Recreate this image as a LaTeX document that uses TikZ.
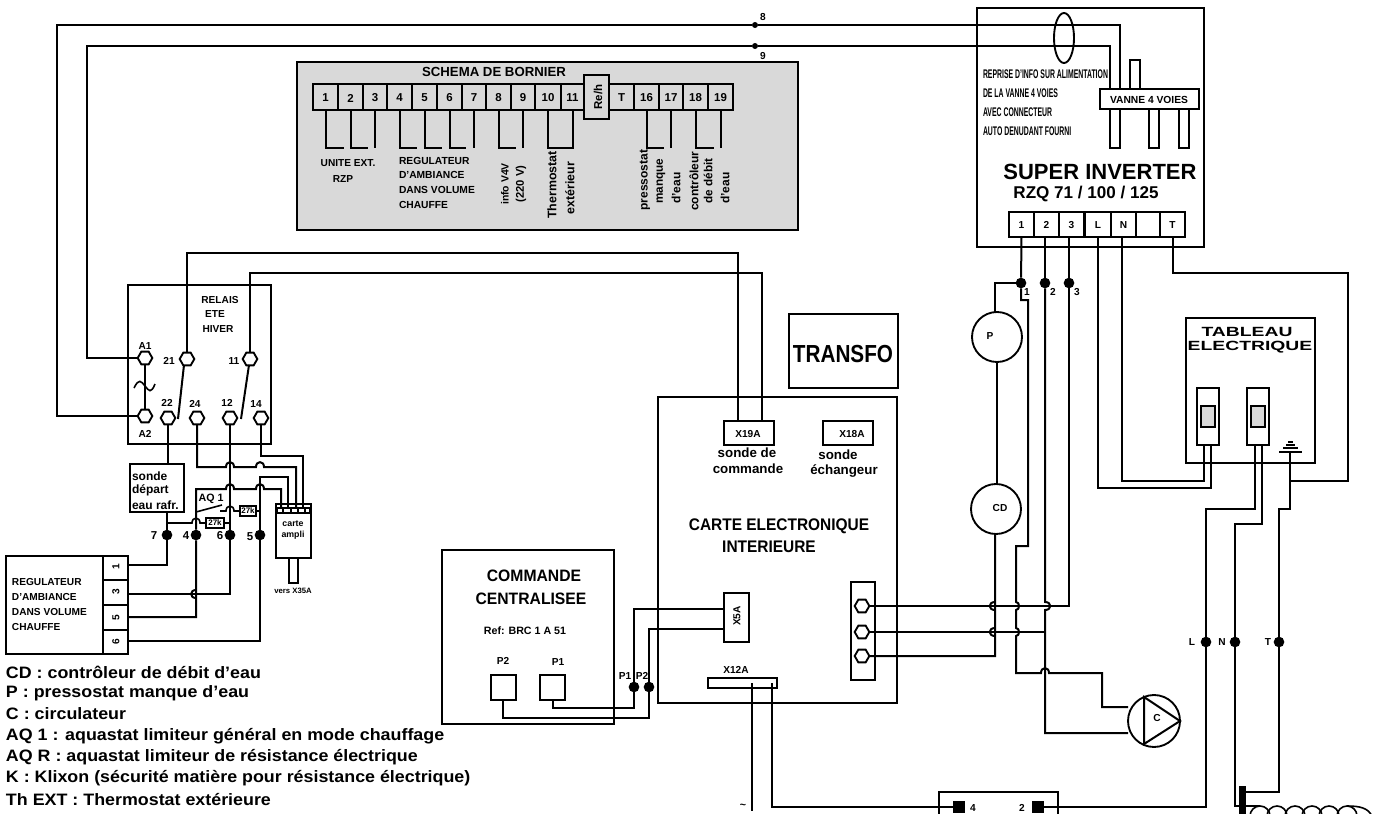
\documentclass[tikz,border=0pt]{standalone}
\usepackage{fontspec}
\setmainfont{Liberation Sans}[BoldFont={Liberation Sans Bold}]
\usetikzlibrary{shapes.geometric}
\newcounter{tc}
\tikzset{
 w/.style={line width=1.5pt,line join=miter},
 thinw/.style={line width=1.2pt},
 box/.style={draw,rectangle,line width=1.5pt,inner sep=0pt,outer sep=0pt},
 lbl/.style={inner sep=0pt,outer sep=0pt},
 hex/.style={draw,fill=white,regular polygon,regular polygon sides=6,shape border rotate=0,minimum size=11pt,inner sep=0pt,line width=1.4pt,outer sep=0pt},
 jdot/.style={circle,fill=black,inner sep=0pt,minimum size=8pt,outer sep=0pt},
 sdot/.style={circle,fill=black,inner sep=0pt,minimum size=4.5pt,outer sep=0pt},
 ring/.style={circle,draw,line width=1.4pt,inner sep=0pt,outer sep=0pt},
}
\newcommand\bx[6][]{\pgfmathsetmacro\ww{(#5-#3)*0.75}\pgfmathsetmacro\hh{(#6-#4)*0.75}\node[box,minimum width=\ww pt,minimum height=\hh pt,#1] (#2) at ({(#3+#5)/2},{(#4+#6)/2}) {};}
\newcommand\tx[5][]{\stepcounter{tc}\node[lbl,font={\fontsize{#4}{#4}\selectfont\bfseries},#1] (lab\thetc) at (#2,#3) {#5};}
% horizontal line bump, vertical line bump (left = negative)
\newcommand\hj[2]{-- ({#1-4},#2) .. controls ({#1-4},{#2-6.5}) and ({#1+4},{#2-6.5}) .. ({#1+4},#2)}
\newcommand\vj[3]{-- (#1,{#2-4}) .. controls ({#1+#3},{#2-4}) and ({#1+#3},{#2+4}) .. (#1,{#2+4})}
\begin{document}
\begin{tikzpicture}[x=0.75pt,y=-0.75pt]
\useasboundingbox (0,0) rectangle (1396,814);
\clip (0,0) rectangle (1396,814);
\fill[white] (0,0) rectangle (1396,814);

%% ---- bornier
\bx[fill=black!15]{bornier}{297}{62}{798}{230}
\foreach \n/\a/\b/\t in {b1/313/338/1,b2/338/363/2,b3/363/387/3,b4/387/412/4,b5/412/437/5,b6/437/462/6,b7/462/486/7,b8/486/511/8,b9/511/535/9,b10/535/561/10,b11/561/584/11,bT/609/634/T,b16/634/659/16,b17/659/683/17,b18/683/708/18,b19/708/733/19}{
  \bx[fill=black!15]{\n}{\a}{84}{\b}{110}
  \tx{\a/2+\b/2}{98}{8.6}{\t}
}
\bx[fill=black!15]{reh}{584}{75}{609}{119}
\tx[rotate=90]{598}{97}{8.6}{Re/h}
\tx{494}{72}{9.9}{SCHEMA DE BORNIER}
\foreach \n/\l in {b1/18,b2/17,b4/17,b5/17,b6/16,b8/17,b16/17,b18/18}{
  \draw[w] (\n.south) -- ++(0,38) -- ++(\l,0);
}
\foreach \n in {b3,b7,b9,b17,b19}{\draw[w] (\n.south) -- ++(0,38);}
\draw[w] (b10.south) -- ++(0,38) -| (b11.south);
\tx{348}{163}{7.6}{UNITE EXT.}
\tx{343}{179}{7.6}{RZP}
\tx[anchor=west]{399}{161}{7.7}{REGULATEUR}
\tx[anchor=west]{399}{175}{7.7}{D'AMBIANCE}
\tx[anchor=west]{399}{190}{7.7}{DANS VOLUME}
\tx[anchor=west]{399}{205}{7.7}{CHAUFFE}
\tx[rotate=90]{505}{184}{7.8}{info V4V}
\tx[rotate=90]{521}{184}{8.4}{(220 V)}
\tx[rotate=90]{552}{185}{9.3}{Thermostat}
\tx[rotate=90]{570}{188}{9.3}{extérieur}
\tx[rotate=90]{645}{180}{9}{pressostat}
\tx[rotate=90]{661}{181}{8.8}{manque}
\tx[rotate=90]{676}{188}{9}{d'eau}
\tx[rotate=90]{694}{181}{9}{contrôleur}
\tx[rotate=90]{708}{181}{8.8}{de débit}
\tx[rotate=90]{725}{188}{9}{d'eau}

%% ---- super inverter
\bx{inv}{977}{8}{1204}{247}
\bx{vanne}{1100}{89}{1199}{109}
\bx{pintop}{1130}{60}{1140}{89}
\bx{pinA}{1110}{109}{1120}{148}
\bx{pinB}{1149}{109}{1159}{148}
\bx{pinC}{1179}{109}{1189}{148}
\tx{1149}{100}{7.7}{VANNE 4 VOIES}
\node[ring,ellipse,minimum width=15pt,minimum height=37.5pt] (cable) at (1064,38) {};
\tx[anchor=west,xscale=0.55]{983}{74}{9.4}{REPRISE D'INFO SUR ALIMENTATION}
\tx[anchor=west,xscale=0.55]{983}{93}{9.4}{DE LA VANNE 4 VOIES}
\tx[anchor=west,xscale=0.55]{983}{112}{9.4}{AVEC CONNECTEUR}
\tx[anchor=west,xscale=0.55]{983}{131}{9.4}{AUTO DENUDANT FOURNI}
\tx{1100}{172}{16.5}{SUPER INVERTER}
\tx{1086}{194}{12.8}{RZQ 71 / 100 / 125}
\foreach \n/\a/\b/\t in {k1/1009/1034/1,k2/1034/1059/2,k3/1059/1084/3,kL/1085/1111/L,kN/1111/1136/N,kE/1136/1160/{},kT/1160/1185/T}{
  \bx{\n}{\a}{212}{\b}{237}
  \tx{\a/2+\b/2}{225}{7.6}{\t}
}
\tx{763}{17}{7.6}{8}
\tx{763}{56}{7.6}{9}

%% ---- relais
\bx{relais}{128}{285}{271}{444}
\tx{220}{300}{7.6}{RELAIS}
\tx{215}{314}{7.6}{ETE}
\tx{218}{329}{7.6}{HIVER}
\node[hex] (A1) at (145,358) {};
\node[hex] (A2) at (145,416) {};
\node[hex] (t21) at (187,359) {};
\node[hex] (t11) at (250,359) {};
\node[hex] (t22) at (168,418) {};
\node[hex] (t24) at (197,418) {};
\node[hex] (t12) at (230,418) {};
\node[hex] (t14) at (261,418) {};
\tx{145}{346}{7.6}{A1}
\tx{145}{434}{7.6}{A2}
\tx{169}{361}{7.6}{21}
\tx{234}{361}{7.6}{11}
\tx{167}{403}{7.6}{22}
\tx{195}{404}{7.6}{24}
\tx{227}{403}{7.6}{12}
\tx{256}{404}{7.6}{14}
\draw[w] (A1) -- (A2);
\draw[thinw,fill=none] (134,388) .. controls (139,378) and (141,381) .. (145,386) .. controls (149,391) and (151,394) .. (155,384);
\draw[w] (184,365) -- (178,419);
\draw[w] (249,365) -- (241,419);

%% ---- regulateur
\bx{reg}{6}{556}{128}{654}
\bx{r1}{103}{556}{128}{580}
\bx{r3}{103}{580}{128}{605}
\bx{r5}{103}{605}{128}{630}
\bx{r6}{103}{630}{128}{654}
\tx[rotate=90]{116}{567}{7.6}{1}
\tx[rotate=90]{116}{592}{7.6}{3}
\tx[rotate=90]{116}{618}{7.6}{5}
\tx[rotate=90]{116}{642}{7.6}{6}
\tx[anchor=west]{12}{582}{7.6}{REGULATEUR}
\tx[anchor=west]{12}{597}{7.6}{D'AMBIANCE}
\tx[anchor=west]{12}{612}{7.6}{DANS VOLUME}
\tx[anchor=west]{12}{627}{7.6}{CHAUFFE}

%% ---- sonde / aq1 / carte ampli
\bx{sonde}{130}{464}{184}{512}
\tx[anchor=west]{132}{476}{9}{sonde}
\tx[anchor=west]{132}{490}{9}{départ}
\tx[anchor=west]{132}{505}{9}{eau rafr.}
\bx{ampli}{276}{504}{311}{558}
\bx[fill=white]{strip}{277}{508}{310}{513}
\foreach \x in {283,291,298,305}{\draw[line width=1pt] (\x,508) -- (\x,513);}
\tx{293}{524}{6.6}{carte}
\tx{293}{535}{6.6}{ampli}
\tx{293}{591}{5.8}{vers X35A}
\node[jdot] (d7) at (167,535) {};
\node[jdot] (d4) at (196,535) {};
\node[jdot] (d6) at (230,535) {};
\node[jdot] (d5) at (260,535) {};
\tx{154}{536}{8.6}{7}
\tx{186}{536}{8.6}{4}
\tx{220}{536}{8.6}{6}
\tx{250}{537}{8.6}{5}
\tx{211}{499}{8}{AQ 1}
\bx[line width=2pt]{res1}{206}{518}{224}{528}
\bx[line width=2pt]{res2}{240}{506}{256}{516}
\tx{215}{523}{6}{27k}
\tx{248}{511}{6}{27k}

\draw[w] (t22) -- (sonde.north -| t22);
\draw[w] (sonde.south -| d7) -- (d7) -- (167,565) -- (r1.east |- 0,565);
\draw[w] (r3.east |- 0,594) -- (230,594) -- (d6);
\draw[w] (t12) -- (d6);
\draw[w] (r5.east |- 0,617) -- (196,617) \vj{196}{594}{-6.5} -- (d4);
\draw[w] (d4) -- (196,489) \hj{230}{489} \hj{260}{489} -- (281,489) -- (281,508);
\draw[w] (t24) -- (197,467) \hj{230}{467} \hj{260}{467} -- (296,467) -- (296,508);
\draw[w] (t14) -- (261,456) -- (303,456) -- (303,508);
\draw[w] (r6.east |- 0,641) -- (260,641) -- (d5) -- (260,477) -- (288,477) -- (288,508);
\draw[thinw] (196,512) -- (222,505);
\draw[thinw] (220,511) \hj{230}{511} -- (res2.west);
\draw[thinw] (res2.east) -- (260,511);
\draw[thinw] (167,523) \hj{196}{523} -- (res1.west);
\draw[thinw] (res1.east) -- (230,523);
\draw[w] (289,558) -- (289,583) -- (298,583) -- (298,558);

%% ---- carte electronique
\bx{carte}{658}{397}{897}{703}
\bx{transfo}{789}{314}{898}{388}
\tx[xscale=0.84]{843}{354}{18.5}{TRANSFO}
\bx{x19}{724}{421}{774}{445}
\bx{x18}{823}{421}{873}{445}
\tx{748}{434}{7.6}{X19A}
\tx{852}{434}{7.6}{X18A}
\tx{747}{453}{10}{sonde de}
\tx{748}{469}{10}{commande}
\tx{838}{455}{10}{sonde}
\tx{844}{471}{10}{échangeur}
\tx[xscale=0.92]{779}{526}{12.6}{CARTE ELECTRONIQUE}
\tx[xscale=0.92]{769}{547}{12.6}{INTERIEURE}
\bx{x5}{724}{593}{749}{642}
\tx[rotate=90]{737}{616}{7.6}{X5A}
\bx{x12}{708}{678}{777}{688}
\tx{736}{670}{7.6}{X12A}
\bx{conn}{851}{582}{875}{680}
\node[hex] (c1) at (862,606) {};
\node[hex] (c2) at (862,632) {};
\node[hex] (c3) at (862,656) {};

%% ---- commande centralisee
\bx{cmd}{442}{550}{614}{724}
\tx[xscale=0.95]{534}{576}{12.4}{COMMANDE}
\tx[xscale=0.95]{531}{599}{12.4}{CENTRALISEE}
\tx{525}{631}{8}{Ref: BRC 1 A 51}
\tx{503}{661}{7.6}{P2}
\tx{558}{662}{7.6}{P1}
\bx{pb2}{491}{675}{516}{700}
\bx{pb1}{540}{675}{565}{700}
\node[jdot] (dp1) at (634,687) {};
\node[jdot] (dp2) at (649,687) {};
\tx{625}{676}{7.6}{P1}
\tx{642}{676}{7.6}{P2}
\draw[w] (pb1.south -| 553,0) -- (553,708) -- (634,708) -- (dp1) -- (634,609) -- (x5.west |- 0,609);
\draw[w] (pb2.south -| 503,0) -- (503,718) -- (649,718) -- (dp2) -- (649,629) -- (x5.west |- 0,629);

%% ---- long wires
\node[sdot] (d8) at (755,25) {};
\node[sdot] (d9) at (755,46) {};
\coordinate (v8) at (1120,89);
\coordinate (v9) at (1110,89);
\draw[w] (A2) -- (57,416) -- (57,25) -- (d8) -- (1120,25) -- (v8);
\draw[w] (A1) -- (87,358) -- (87,46) -- (d9) -- (1110,46) -- (v9);
\draw[w] (t21) -- (187,253) -- (738,253) -- (738,421);
\draw[line width=2pt] (410,253) -- (437,253);
\draw[w] (t11) -- (250,273) -- (762,273) -- (762,421);

%% ---- pressostat etc.
\node[ring,minimum size=37.5pt] (P) at (997,337) {};
\tx{990}{336}{7.6}{P}
\node[ring,minimum size=37.5pt] (CD) at (996,509) {};
\tx{1000}{508}{7.6}{CD}
\node[ring,minimum size=39pt] (circ) at (1154,721) {};
\tx{1157}{718}{7.6}{C}
\draw[w] (1144,697) -- (1144,744) -- (1180,721) -- cycle;
\node[jdot] (j1) at (1021,283) {};
\node[jdot] (j2) at (1045,283) {};
\node[jdot] (j3) at (1069,283) {};
\tx{1027}{292}{7.6}{1}
\tx{1053}{292}{7.6}{2}
\tx{1077}{292}{7.6}{3}
\draw[w] (k1.south) -- (j1);
\draw[w] (k2.south -| j2) -- (j2);
\draw[w] (k3.south -| j3) -- (j3);
\draw[w] (j1) -- (995,283) -- (P.north -| 995,0);
\draw[w] (P) -- (CD.north -| P);
\draw[w] (j1) -- (1021,300) -- (1028,300) -- (1028,546) -- (1016,546) \vj{1016}{606}{4} \vj{1016}{632}{4} -- (1016,673) \hj{1045}{673} -- (1102,673) -- (1102,707) -- (circ.west |- 0,707);
\draw[w] (j2) \vj{1045}{606}{7} -- (1045,733) -- (circ.west |- 0,733);
\draw[w] (j3) -- (1069,606) -- (c1);
\draw[w] (c2) -- (1045,632);
\draw[w] (c3) -- (995,656) \vj{995}{632}{-7} \vj{995}{606}{-7} -- (CD.south -| 995,0);

%% ---- tableau
\bx{tab}{1186}{318}{1315}{463}
\tx[xscale=1.45]{1247}{332}{10}{TABLEAU}
\tx[xscale=1.45]{1250}{347}{10}{ELECTRIQUE}
\bx{br1}{1197}{388}{1219}{445}
\bx{br2}{1247}{388}{1269}{445}
\bx[fill=black!15]{br1i}{1201}{406}{1215}{427}
\bx[fill=black!15]{br2i}{1251}{406}{1265}{427}
\coordinate (e0) at (1290,452);
\draw[thinw] (1279,452) -- (1302,452);
\draw[thinw] (1283,448) -- (1298,448);
\draw[thinw] (1286,445) -- (1295,445);
\draw[thinw] (1288,442) -- (1293,442);
\node[jdot] (dL) at (1206,642) {};
\node[jdot] (dN) at (1235,642) {};
\node[jdot] (dT) at (1279,642) {};
\tx{1192}{642}{7.6}{L}
\tx{1222}{642}{7.6}{N}
\tx{1268}{642}{7.6}{T}
\draw[w] (kL.south -| 1098,0) -- (1098,488) -- (1211,488) -- (br1.south -| 1211,0);
\draw[w] (kN.south -| 1122,0) -- (1122,481) -- (1204,481) -- (br1.south -| 1204,0);
\draw[w] (kT.south) -- (1172.5,273) -- (1348,273) -- (1348,481) -- (1290,481);
\draw[w] (br2.south -| 1255,0) -- (1255,509) -- (1206,509) -- (dL);
\draw[w] (br2.south -| 1262,0) -- (1262,524) -- (1235,524) -- (dN);
\draw[w] (e0) -- (1290,509) -- (1279,509) -- (dT);

%% ---- bottom boxes
\node[fill=black,minimum width=5.25pt,minimum height=21pt,inner sep=0pt,outer sep=0pt] (bar) at (1242.5,800) {};
\draw[w] (dT) -- (1279,792) -- (bar.east |- 0,792);
\draw[w] (dN) -- (1235,806) -- (bar.west |- 0,806);
\foreach \x in {1260,1277,1295,1312,1329,1347}{\draw[thinw] (\x,816) circle[radius=7.5pt];}
\draw[thinw] (bar.east |- 0,806) -- (1260,806) ;
\draw[thinw] (1347,806) .. controls (1360,806) and (1368,808) .. (1372,816);
\draw[w] (939,814) -- (939,792) -- (1058,792) -- (1058,814);
\node[fill=black,minimum size=9pt,inner sep=0pt,outer sep=0pt] (s4) at (959,807) {};
\node[fill=black,minimum size=9pt,inner sep=0pt,outer sep=0pt] (s2) at (1038,807) {};
\tx{973}{808}{7.6}{4}
\tx{1022}{808}{7.6}{2}
\draw[w] (s2) -- (dL |- s2) -- (dL);
\draw[w] (x12.center -| 752,0) -- (752,811);
\draw[w] (772,683) -- (772,807) -- (s4);
\tx{743}{806}{8}{\textasciitilde}

%% ---- legend
\tx[anchor=west,xscale=1.08]{6}{672}{12.4}{CD : contrôleur de débit d'eau}
\tx[anchor=west,xscale=1.08]{6}{693}{12.4}{P : pressostat manque d'eau}
\tx[anchor=west,xscale=1.08]{6}{714}{12.4}{C : circulateur}
\tx[anchor=west,xscale=1.08]{6}{736}{12.4}{AQ 1 : aquastat limiteur général en mode chauffage}
\tx[anchor=west,xscale=1.08]{6}{757}{12.4}{AQ R : aquastat limiteur de résistance électrique}
\tx[anchor=west,xscale=1.08]{6}{778}{12.4}{K : Klixon (sécurité matière pour résistance électrique)}
\tx[anchor=west,xscale=1.08]{6}{800}{12.4}{Th EXT : Thermostat extérieure}
\end{tikzpicture}
\end{document}
